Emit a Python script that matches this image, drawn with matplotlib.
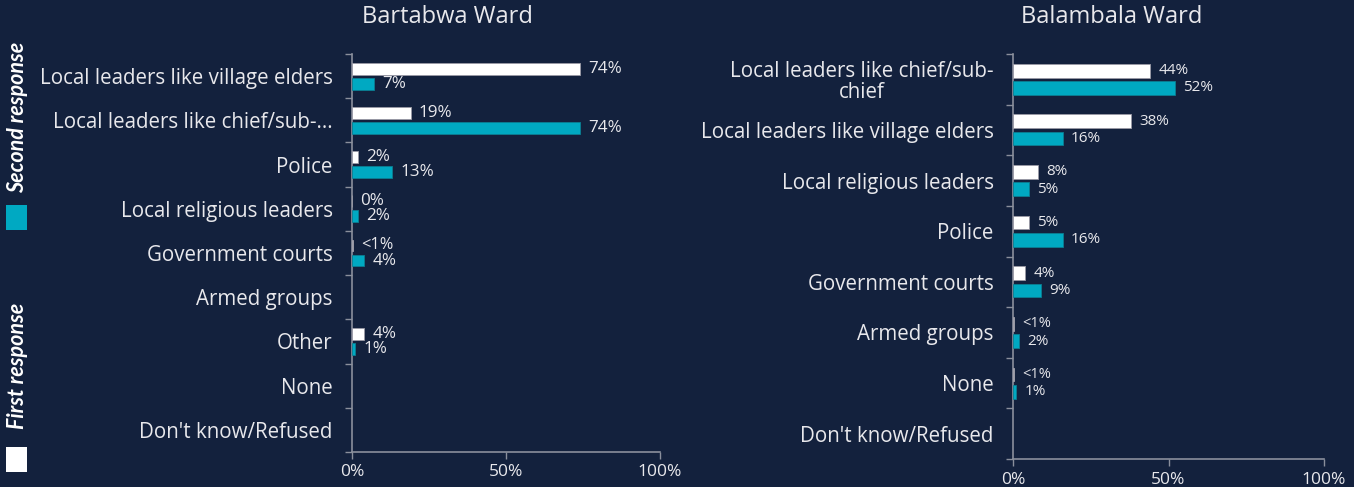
import matplotlib
matplotlib.use("Agg")
import matplotlib.pyplot as plt
from matplotlib.patches import Rectangle
import numpy as np

# ---- data -------------------------------------------------------------
bartabwa_cats = ["Local leaders like village elders", "Local leaders like chief/sub-...",
                 "Police", "Local religious leaders", "Government courts", "Armed groups",
                 "Other", "None", "Don't know/Refused"]
bartabwa_first = [74, 19, 2, 0, 0.3, None, 4, None, None]
bartabwa_first_lbl = ["74%", "19%", "2%", "0%", "<1%", None, "4%", None, None]
bartabwa_second = [7, 74, 13, 2, 4, None, 1, None, None]
bartabwa_second_lbl = ["7%", "74%", "13%", "2%", "4%", None, "1%", None, None]

balambala_cats = ["Local leaders like chief/sub-\nchief", "Local leaders like village elders",
                  "Local religious leaders", "Police", "Government courts", "Armed groups",
                  "None", "Don't know/Refused"]
balambala_first = [44, 38, 8, 5, 4, 0.3, 0.3, None]
balambala_first_lbl = ["44%", "38%", "8%", "5%", "4%", "<1%", "<1%", None]
balambala_second = [52, 16, 5, 16, 9, 2, 1, None]
balambala_second_lbl = ["52%", "16%", "5%", "16%", "9%", "2%", "1%", None]

x_ticks = [0, 50, 100]
x_ticklabels = ["0%", "50%", "100%"]

# ---- style ------------------------------------------------------------
BG = "#13213d"
TEAL = "#00a9c2"
WHITE = "#ffffff"
TXT = "#e8e8ec"
AXC = "#8a8f9c"
FONT = ["Open Sans", "DejaVu Sans"]
plt.rcParams["font.family"] = FONT

fig = plt.figure(figsize=(13.54, 4.87), dpi=100, facecolor=BG)


def draw_panel(rect, title, title_x, cats, first, first_lbl, second, second_lbl, lbl_size):
    ax = fig.add_axes(rect, facecolor=BG)
    n = len(cats)
    y = np.arange(n)
    h = 0.27
    off = 0.17
    for i in range(n):
        if first[i] is not None:
            ax.barh(y[i] - off, first[i], height=h, color=WHITE,
                    edgecolor="#9a9aa6", linewidth=0.6, zorder=3)
            ax.annotate(first_lbl[i], (first[i], y[i] - off), xytext=(6, 0),
                        textcoords="offset points", ha="left", va="center",
                        color=TXT, fontsize=lbl_size if first_lbl[i] != "<1%" else lbl_size - 0.5)
        if second[i] is not None:
            ax.barh(y[i] + off, second[i], height=h, color=TEAL,
                    edgecolor="#0b7f93", linewidth=0.6, zorder=3)
            ax.annotate(second_lbl[i], (second[i], y[i] + off), xytext=(6, 0),
                        textcoords="offset points", ha="left", va="center",
                        color=TXT, fontsize=lbl_size)
    ax.set_ylim(n - 0.5, -0.5)
    ax.set_xlim(0, 100)
    ax.set_yticks(y)
    ax.set_yticklabels(cats, fontsize=14.8, color=TXT, multialignment="center",
                       linespacing=1.0)
    ax.set_yticks(np.arange(n + 1) - 0.5, minor=True)
    ax.tick_params(axis="y", which="major", length=0, pad=14)
    ax.tick_params(axis="y", which="minor", length=5, color=AXC, width=1)
    ax.set_xticks(x_ticks)
    ax.set_xticklabels(x_ticklabels, fontsize=12.5, color=TXT)
    ax.tick_params(axis="x", length=5, color=AXC, width=1, pad=4)
    for s in ["top", "right"]:
        ax.spines[s].set_visible(False)
    for s in ["left", "bottom"]:
        ax.spines[s].set_color(AXC)
        ax.spines[s].set_linewidth(1.2)
    fig.text(title_x, 1 - 17 / 487, title, ha="center", va="center",
             fontsize=17, color=TXT)
    return ax


draw_panel([352 / 1354, 1 - 452 / 487, 308 / 1354, 398 / 487],
           "Bartabwa Ward", 447 / 1354,
           bartabwa_cats, bartabwa_first, bartabwa_first_lbl,
           bartabwa_second, bartabwa_second_lbl, 12.3)
draw_panel([1013 / 1354, 1 - 459 / 487, 311 / 1354, 405 / 487],
           "Balambala Ward", 1112 / 1354,
           balambala_cats, balambala_first, balambala_first_lbl,
           balambala_second, balambala_second_lbl, 11)

# ---- vertical legend on the left edge ---------------------------------
W, H = 1354, 487
fig.patches.append(Rectangle((6 / W, 1 - 230 / H), 21 / W, 25 / H, transform=fig.transFigure,
                             facecolor=TEAL, edgecolor="none"))
fig.patches.append(Rectangle((6 / W, 1 - 472 / H), 21 / W, 25 / H, transform=fig.transFigure,
                             facecolor=WHITE, edgecolor="none"))
fig.text(18 / W, 1 - 117 / H, "Second response", rotation=90, ha="center", va="center",
         fontsize=15.5, fontweight="bold", fontstyle="italic", color=WHITE,
         family=["Lato", "DejaVu Sans"])
fig.text(18 / W, 1 - 366 / H, "First response", rotation=90, ha="center", va="center",
         fontsize=15.5, fontweight="bold", fontstyle="italic", color=WHITE,
         family=["Lato", "DejaVu Sans"])

fig.savefig("out.png", dpi=100, facecolor=BG)
